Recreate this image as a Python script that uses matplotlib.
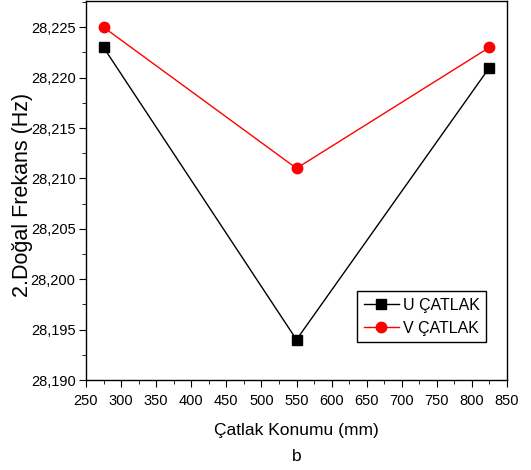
import matplotlib
matplotlib.use('Agg')
import matplotlib.pyplot as plt
from matplotlib.ticker import MultipleLocator, FuncFormatter

plt.rcParams['font.family'] = ['Liberation Sans', 'DejaVu Sans']

# crack position (mm) and 2nd natural frequency (Hz)
konum = [275, 550, 825]
u_catlak = [28.223, 28.194, 28.221]
v_catlak = [28.225, 28.211, 28.223]

fig = plt.figure(figsize=(5.31, 4.70), dpi=100)
ax = fig.add_axes([86/531, 90/470, 421/531, 379/470])

ax.plot(konum, u_catlak, color='black', lw=1, marker='s', ms=7, label='U ÇATLAK')
ax.plot(konum, v_catlak, color='red', lw=1, marker='o', ms=7.5, label='V ÇATLAK')

ax.set_xlim(250, 850)
ax.set_ylim(28.190, 28.2276)
ax.xaxis.set_major_locator(MultipleLocator(50))
ax.xaxis.set_minor_locator(MultipleLocator(25))
ax.yaxis.set_major_locator(MultipleLocator(0.005))
ax.yaxis.set_minor_locator(MultipleLocator(0.0025))
ax.yaxis.set_major_formatter(FuncFormatter(lambda v, p: f'{v:.3f}'.replace('.', ',')))
ax.tick_params(which='both', direction='out', labelsize=10.5, top=False, right=False)
ax.tick_params(which='major', length=5)
ax.tick_params(which='minor', length=3)
ax.tick_params(axis='x', pad=5)
ax.tick_params(axis='y', pad=2.5)
for s in ax.spines.values():
    s.set_linewidth(1)

ax.set_xlabel('Çatlak Konumu (mm)\nb', fontsize=12.5, linespacing=1.95)
ax.xaxis.set_label_coords(0.5, -0.113)
ax.set_ylabel('2.Doğal Frekans (Hz)', fontsize=15.5)
ax.yaxis.set_label_coords(-0.125, 0.488)

leg = ax.legend(loc='lower right', bbox_to_anchor=(0.950, 0.100), borderaxespad=0,
                fontsize=11.5, fancybox=False, edgecolor='black', framealpha=1,
                handlelength=2.2, borderpad=0.4, labelspacing=0.5, handletextpad=0.25)
leg.get_frame().set_linewidth(1)

fig.savefig('out.png', dpi=100)
